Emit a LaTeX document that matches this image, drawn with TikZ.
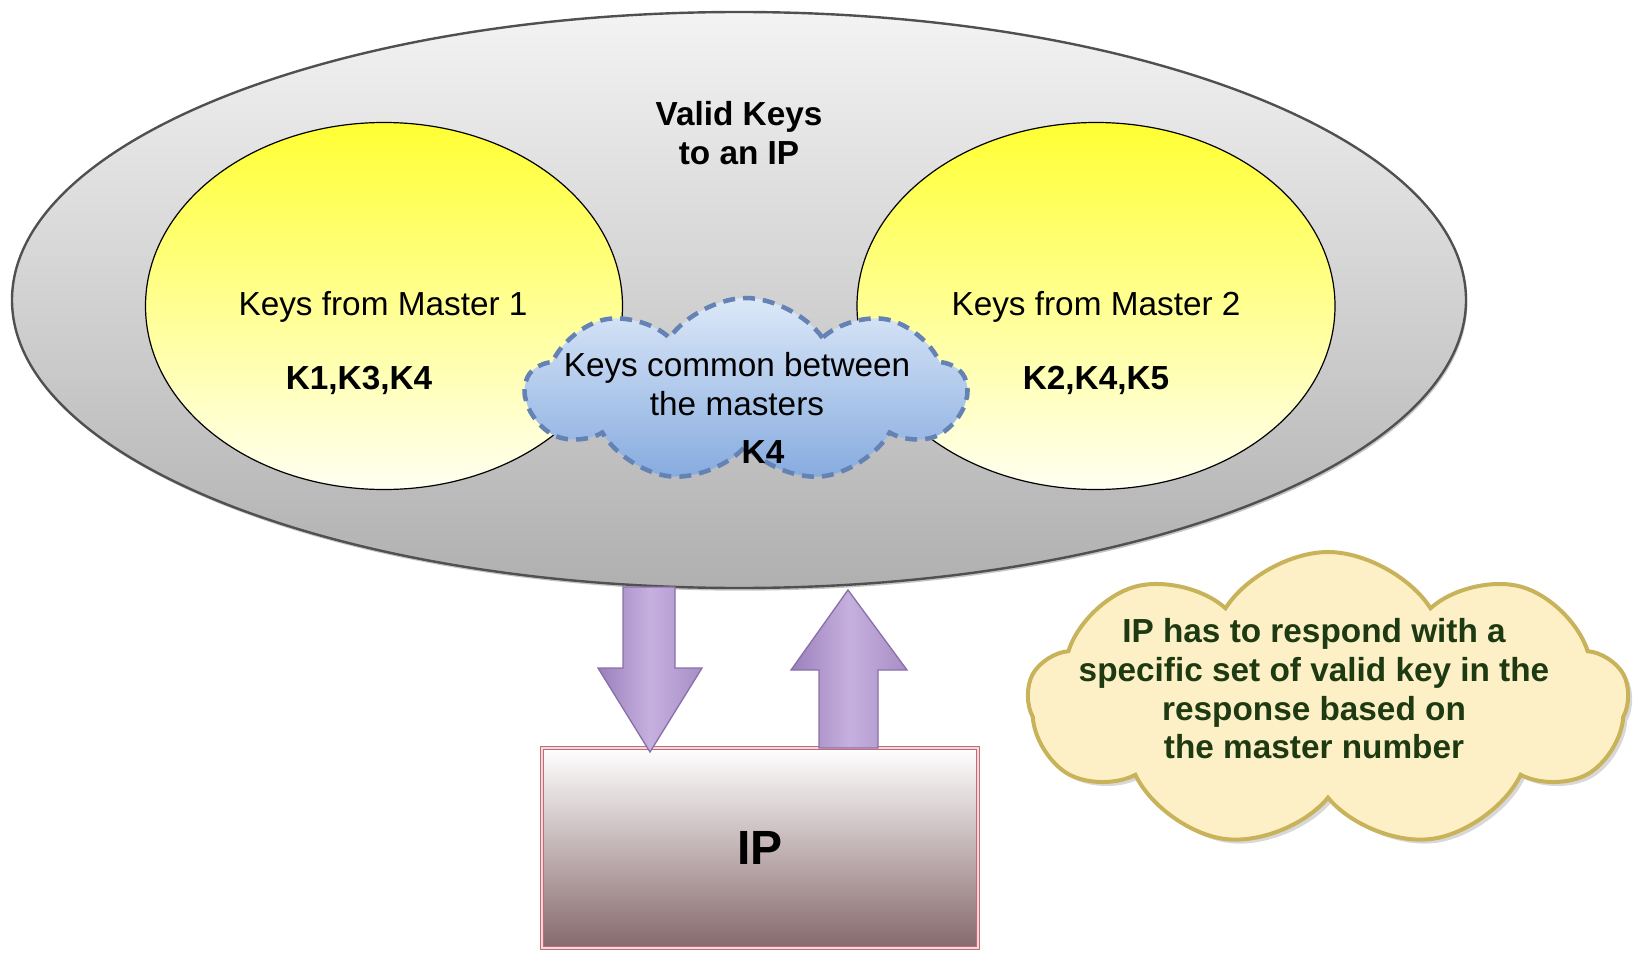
\documentclass[tikz,border=0pt]{standalone}
\usepackage{fontspec}
\setmainfont{Liberation Sans}
\usetikzlibrary{shapes.geometric,shapes.symbols,shadows}
\definecolor{grayTop}{HTML}{F3F3F3}
\definecolor{grayBot}{HTML}{B0B0B0}
\definecolor{grayEdge}{HTML}{505050}
\definecolor{yelTop}{HTML}{FFFF33}
\definecolor{yelBot}{HTML}{FFFFF2}
\definecolor{bluTop}{HTML}{DCE8F8}
\definecolor{bluBot}{HTML}{86ABDF}
\definecolor{bluEdge}{HTML}{6482B4}
\definecolor{purDark}{HTML}{9A80BC}
\definecolor{purLight}{HTML}{C6B0DE}
\definecolor{purEdge}{HTML}{8A70A8}
\definecolor{ipBot}{HTML}{86696C}
\definecolor{ipEdge}{HTML}{C66A78}
\definecolor{noteFill}{HTML}{FDF0C6}
\definecolor{noteEdge}{HTML}{C8B35A}
\definecolor{noteText}{HTML}{1E3A12}
\tikzset{
  txt/.style={font=\fontsize{25}{29}\selectfont, align=center, inner sep=0pt},
  btxt/.style={txt, font=\fontsize{25}{29}\selectfont\bfseries},
  outerell/.style={ellipse, draw=grayEdge, line width=1.8pt, top color=grayTop, bottom color=grayBot,
     inner sep=0pt, drop shadow={shadow xshift=1pt, shadow yshift=-2pt, fill=black!45}},
  yellell/.style={ellipse, draw=black, line width=0.9pt, top color=yelTop, bottom color=yelBot, inner sep=0pt},
  commoncloud/.style={cloud, cloud puffs=9, cloud puff arc=110, cloud ignores aspect, inner sep=0pt,
     draw=bluEdge, line width=3.4pt, dash pattern=on 9pt off 6pt, top color=bluTop, bottom color=bluBot},
  notecloud/.style={cloud, cloud puffs=9, cloud puff arc=115, cloud ignores aspect, inner sep=0pt,
     draw=noteEdge, line width=3pt, fill=noteFill, drop shadow={shadow xshift=3pt, shadow yshift=-3pt, fill=black!30}},
  blockarrow/.style={draw=purEdge, line width=1pt, left color=purDark, right color=purDark!70!purLight, middle color=purLight},
  ipbox/.style={rectangle, draw=ipEdge, line width=0.8pt, double=ipEdge!25, double distance=1.5pt,
     top color=white, bottom color=ipBot, inner sep=0pt},
}
\begin{document}
\begin{tikzpicture}[x=0.75pt,y=-0.75pt]
\useasboundingbox (0,0) rectangle (1633,952);

% outer ellipse
\node[outerell, minimum width=1090.5pt, minimum height=432pt] (valid) at (739,300) {};
% master ellipses
\node[yellell, minimum width=357.75pt, minimum height=275.25pt] (m1) at (384,306) {};
\node[yellell, minimum width=358.5pt, minimum height=275.25pt] (m2) at (1096,306) {};
% common cloud
\node[commoncloud, minimum width=330pt, minimum height=138pt] (common) at (746,390) {};

% texts
\node[btxt] (validT) at (739,133) {Valid Keys\\to an IP};
\node[txt] (m1T) at (383,307) {Keys from Master 1};
\node[btxt] (m1K) at (359,380) {K1,K3,K4};
\node[txt] (m2T) at (1096,307) {Keys from Master 2};
\node[btxt] (m2K) at (1096,380) {K2,K4,K5};
\node[txt] (commonT) at (737,384) {Keys common between\\the masters};
\node[btxt] (commonK) at (763,452) {K4};

% IP box
\node[ipbox, minimum width=327pt, minimum height=150pt] (ip) at (760,848) {};
\node[font=\fontsize{36}{40}\selectfont\bfseries, inner sep=0pt] (ipT) at (760,848) {IP};

% block arrows
\coordinate (dTop) at (649,587);
\coordinate (dTip) at (650,752);
\coordinate (uTip) at (848,590);
\coordinate (uBot) at (848,748);
\path[blockarrow] ([xshift=-19.5pt]dTop) -- ([xshift=19.5pt]dTop) -- ([xshift=19.5pt]dTop |- 0,668)
   -- (702,668) -- (dTip) -- (598,668) -- ([xshift=-19.5pt]dTop |- 0,668) -- cycle;
\path[blockarrow] ([xshift=-21.75pt]uBot) -- ([xshift=-21.75pt]uBot |- 0,670) -- (791,670) -- (uTip)
   -- (907,670) -- ([xshift=22.5pt]uBot |- 0,670) -- ([xshift=22.5pt]uBot) -- cycle;

% note cloud
\node[notecloud, minimum width=450pt, minimum height=222pt] (note) at (1328,700) {};
\node[btxt, text=noteText] (noteT) at (1314,689) {IP has to respond with a\\specific set of valid key in the\\response based on\\the master number};
\end{tikzpicture}
\end{document}
